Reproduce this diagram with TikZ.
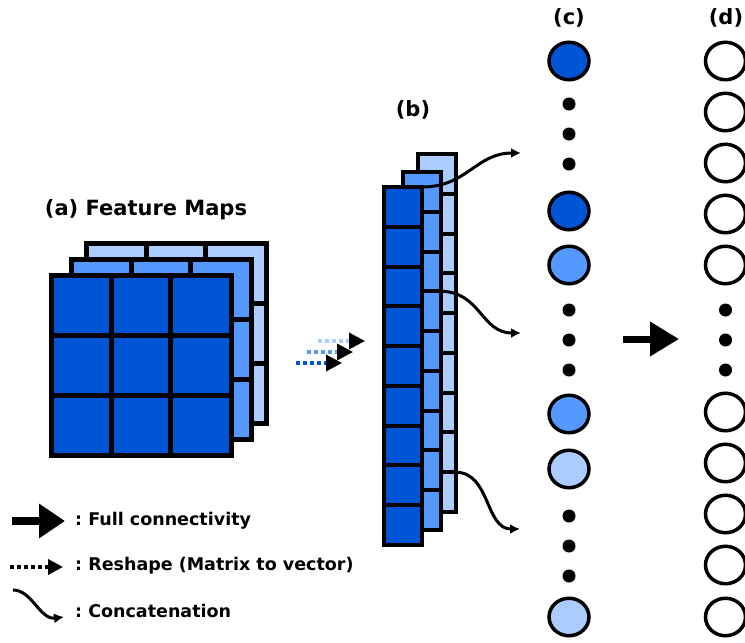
\documentclass[tikz,border=0pt]{standalone}
\usepackage{fontspec}
\setmainfont{DejaVu Sans}
\usetikzlibrary{arrows.meta,shapes.geometric,calc}
\definecolor{bdark}{HTML}{0055D4}
\definecolor{bmid}{HTML}{5599FF}
\definecolor{blight}{HTML}{AACCFF}
\frenchspacing
\begin{document}
\begin{tikzpicture}[x=1pt,y=-1pt,
  fmap/.style={draw=black,line width=5pt,minimum width=180pt,minimum height=180pt,inner sep=0pt,outer sep=0pt},
  vcol/.style={draw=black,line width=4pt,minimum width=38pt,minimum height=358pt,inner sep=0pt,outer sep=0pt},
  neuron/.style={ellipse,draw=black,line width=3.5pt,minimum width=40pt,minimum height=37.5pt,inner sep=0pt,outer sep=0pt},
  vdot/.style={circle,fill=black,minimum size=13pt,inner sep=0pt},
  lbl/.style={font=\bfseries\fontsize{21}{25}\selectfont,inner sep=0pt},
  legtext/.style={font=\bfseries\fontsize{17.5}{21}\selectfont,anchor=west,inner sep=0pt},
  concat/.style={line width=3pt,-{Latex[length=10pt,width=10pt]}},
  reshape/.style={line width=3.5pt,dash pattern=on 4pt off 3pt,-{Triangle[length=16pt,width=16pt,color=black]}},
  fullarrow/.style={-{Triangle[length=29pt,width=33pt]}}
]
\useasboundingbox (0,0) rectangle (745,643);

% (a) feature maps
\foreach \nm/\cx/\cy/\col in {fmC/176/333/blight, fmB/161/349/bmid, fmA/141/365/bdark} {
  \node[fmap,fill=\col] (\nm) at (\cx,\cy) {};
  \foreach \k in {1,2} {
    \draw[line width=5pt] ($(\nm.north west)!\k/3!(\nm.north east)$) -- ($(\nm.south west)!\k/3!(\nm.south east)$);
    \draw[line width=5pt] ($(\nm.north west)!\k/3!(\nm.south west)$) -- ($(\nm.north east)!\k/3!(\nm.south east)$);
  }
}
\node[lbl] (la) at (146,210) {(a) Feature Maps};

% reshape arrows
\coordinate (r1s) at (318,341); \coordinate (r1e) at (365,341);
\coordinate (r2s) at (307,352); \coordinate (r2e) at (353,352);
\coordinate (r3s) at (296,363); \coordinate (r3e) at (342,363);
\draw[reshape,blight] (r1s) -- (r1e);
\draw[reshape,bmid] (r2s) -- (r2e);
\draw[reshape,bdark] (r3s) -- (r3e);

% (b) vectors
\foreach \nm/\cx/\cy/\col in {vc3/436.5/333/blight, vc2/421.5/351/bmid, vc1/403/366/bdark} {
  \node[vcol,fill=\col] (\nm) at (\cx,\cy) {};
  \foreach \k in {1,...,8} {
    \draw[line width=4pt] ($(\nm.north west)!\k/9!(\nm.south west)$) -- ($(\nm.north east)!\k/9!(\nm.south east)$);
  }
}
\node[lbl] (lb) at (413,110) {(b)};

% concatenation curves
\coordinate (s1) at (vc1.north east);
\coordinate (s2) at ($(vc2.north east)!3/9!(vc2.south east)$);
\coordinate (s3) at ($(vc3.north east)!8/9!(vc3.south east)$);
\coordinate (e1) at (521,153);
\coordinate (e2) at (521,333);
\coordinate (e3) at (520,529);
\draw[concat] (s1) .. controls +(45,0) and +(-45,0) .. (e1);
\draw[concat] (s2) .. controls +(40,0) and +(-40,0) .. (e2);
\draw[concat] (s3) .. controls +(35,0) and +(-35,0) .. (e3);

% (c) column
\node[lbl] (lc) at (569,18) {(c)};
\node[neuron,fill=bdark] (c1) at (569,61) {};
\node[vdot] (cd1) at (569,104) {};
\node[vdot] (cd2) at (569,134) {};
\node[vdot] (cd3) at (569,164) {};
\node[neuron,fill=bdark] (c2) at (569,211) {};
\node[neuron,fill=bmid] (c3) at (569,265) {};
\node[vdot] (cd4) at (569,310) {};
\node[vdot] (cd5) at (569,340) {};
\node[vdot] (cd6) at (569,370) {};
\node[neuron,fill=bmid] (c4) at (569,414) {};
\node[neuron,fill=blight] (c5) at (569,469) {};
\node[vdot] (cd7) at (569,516) {};
\node[vdot] (cd8) at (569,546) {};
\node[vdot] (cd9) at (569,576) {};
\node[neuron,fill=blight] (c6) at (569,617) {};

% full connectivity arrow
\coordinate (fa1) at (623,339);
\coordinate (fa2) at (679,339);
\draw[line width=7pt,fullarrow] (fa1) -- (fa2);

% (d) column
\node[lbl] (ld) at (726,18) {(d)};
\foreach \i/\y in {1/61,2/112,3/163,4/214,5/265,6/412,7/463,8/514,9/565,10/617} {
  \node[neuron,fill=white] (d\i) at (725.5,\y) {};
}
\node[vdot] (dd1) at (725.5,310) {};
\node[vdot] (dd2) at (725.5,340) {};
\node[vdot] (dd3) at (725.5,370) {};

% legend
\coordinate (lg1s) at (12,521); \coordinate (lg1e) at (65,521);
\coordinate (lg2s) at (10,567); \coordinate (lg2e) at (63,567);
\coordinate (lg3s) at (13,590); \coordinate (lg3e) at (64,617);
\draw[line width=8pt,-{Triangle[length=26pt,width=33pt]}] (lg1s) -- (lg1e);
\draw[line width=3.5pt,dash pattern=on 4pt off 3pt,-{Triangle[length=15pt,width=15pt]}] (lg2s) -- (lg2e);
\draw[concat] (lg3s) .. controls (32,590) and (40,620) .. (lg3e);
\node[legtext] (t1) at (75,521) {: Full connectivity};
\node[legtext] (t2) at (75,566) {: Reshape (Matrix to vector)};
\node[legtext] (t3) at (75,611) {: Concatenation};
\end{tikzpicture}
\end{document}
